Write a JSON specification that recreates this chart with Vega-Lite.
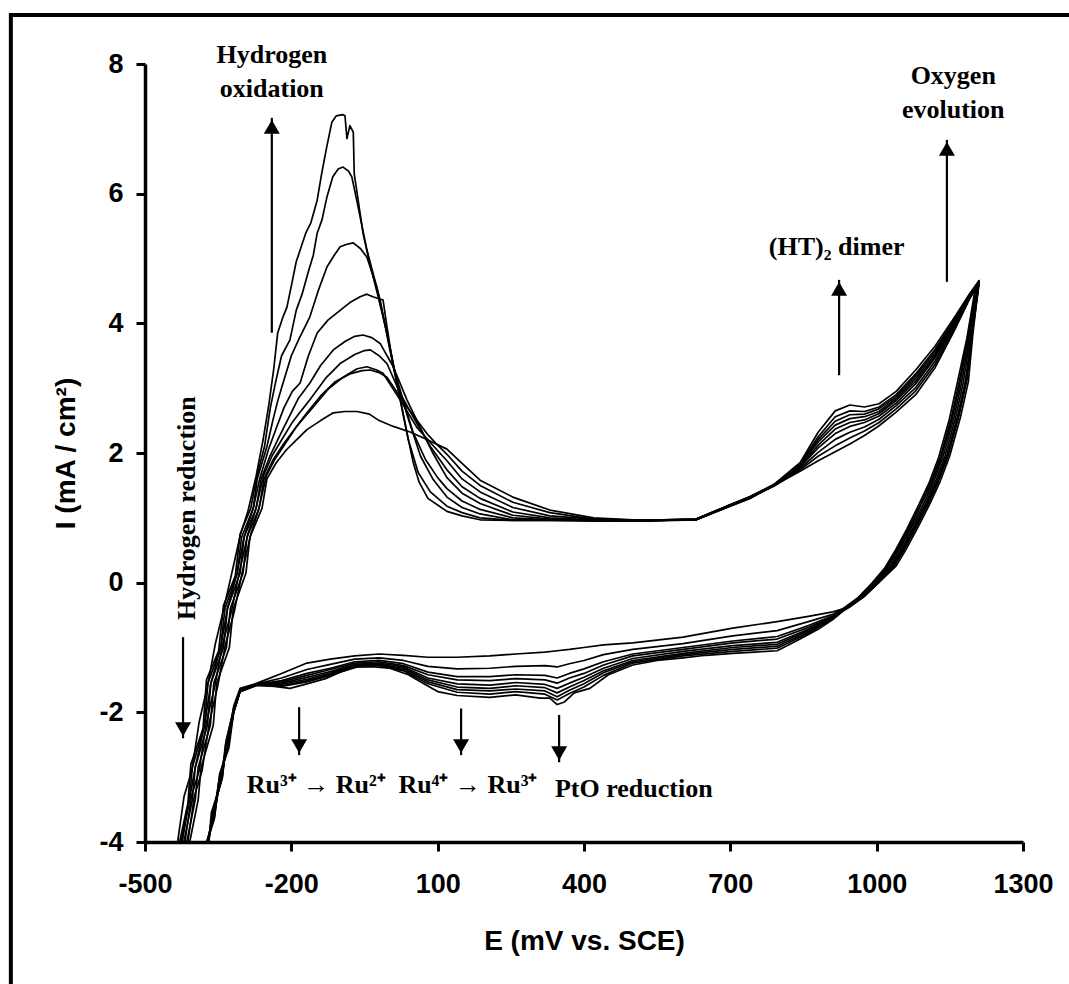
{
"$schema": "https://vega.github.io/schema/vega-lite/v6.json",
"width": 878, "height": 778,
"autosize": "none",
"padding": {"left": 145, "top": 64, "right": 46, "bottom": 142},
"background": "white",
"config": {"view": {"stroke": null}},
"datasets": {
"cv": [
{"c":1,"E":-460,"I":-5.5},{"c":1,"E":-435,"I":-4.1},{"c":1,"E":-420,"I":-3.3},{"c":1,"E":-404,"I":-2.9},{"c":1,"E":-389,"I":-2.15},{"c":1,"E":-372,"I":-1.6},{"c":1,"E":-356,"I":-0.95},{"c":1,"E":-340,"I":-0.45},{"c":1,"E":-322,"I":0.15},{"c":1,"E":-304,"I":0.75},{"c":1,"E":-289,"I":1.1},{"c":1,"E":-272,"I":1.65},
{"c":1,"E":-258,"I":2.2},{"c":1,"E":-246,"I":2.75},{"c":1,"E":-236,"I":3.3},{"c":1,"E":-228,"I":3.85},{"c":1,"E":-217,"I":4.1},{"c":1,"E":-209,"I":4.25},{"c":1,"E":-198,"I":4.65},{"c":1,"E":-190,"I":4.95},{"c":1,"E":-182,"I":5.13},{"c":1,"E":-170,"I":5.4},{"c":1,"E":-160,"I":5.55},{"c":1,"E":-147,"I":5.9},{"c":1,"E":-138,"I":6.3},{"c":1,"E":-128,"I":6.7},{"c":1,"E":-117,"I":7.1},{"c":1,"E":-108,"I":7.2},{"c":1,"E":-95,"I":7.22},{"c":1,"E":-90,"I":7.2},{"c":1,"E":-86,"I":6.85},{"c":1,"E":-80,"I":7.05},{"c":1,"E":-73,"I":6.95},{"c":1,"E":-71,"I":6.3},{"c":1,"E":-66,"I":6.05},{"c":1,"E":-53,"I":5.39},{"c":1,"E":-40,"I":4.95},{"c":1,"E":-24,"I":4.47},{"c":1,"E":-4,"I":3.85},{"c":1,"E":17,"I":3.08},{"c":1,"E":37,"I":2.31},{"c":1,"E":50,"I":1.85},{"c":1,"E":62,"I":1.55},{"c":1,"E":80,"I":1.3},{"c":1,"E":119,"I":1.1},{"c":1,"E":150,"I":1.03},{"c":1,"E":187,"I":0.97},{"c":1,"E":254,"I":0.96},{"c":1,"E":330,"I":0.96},{"c":1,"E":420,"I":0.95},{"c":1,"E":520,"I":0.96},{"c":1,"E":630,"I":0.97},{"c":1,"E":693,"I":1.16},{"c":1,"E":740,"I":1.3},{"c":1,"E":790,"I":1.5},
{"c":1,"E":843,"I":1.72},{"c":1,"E":880,"I":1.88},{"c":1,"E":915,"I":2.02},{"c":1,"E":945,"I":2.14},{"c":1,"E":975,"I":2.27},{"c":1,"E":1005,"I":2.42},{"c":1,"E":1040,"I":2.63},{"c":1,"E":1080,"I":2.9},{"c":1,"E":1120,"I":3.32},{"c":1,"E":1160,"I":3.9},{"c":1,"E":1190,"I":4.37},{"c":1,"E":1210,"I":4.62},
{"c":1,"E":1205,"I":4.45},{"c":1,"E":1192,"I":3.8},{"c":1,"E":1178,"I":3.1},{"c":1,"E":1162,"I":2.55},{"c":1,"E":1140,"I":1.95},{"c":1,"E":1120,"I":1.55},{"c":1,"E":1100,"I":1.22},{"c":1,"E":1075,"I":0.85},{"c":1,"E":1050,"I":0.5},{"c":1,"E":1030,"I":0.25},{"c":1,"E":1000,"I":0.0},{"c":1,"E":970,"I":-0.22},{"c":1,"E":940,"I":-0.38},
{"c":1,"E":910,"I":-0.57},{"c":1,"E":880,"I":-0.72},{"c":1,"E":840,"I":-0.88},{"c":1,"E":796,"I":-1.05},{"c":1,"E":750,"I":-1.07},{"c":1,"E":705,"I":-1.09},{"c":1,"E":650,"I":-1.12},{"c":1,"E":603,"I":-1.16},{"c":1,"E":550,"I":-1.2},{"c":1,"E":500,"I":-1.27},{"c":1,"E":450,"I":-1.42},{"c":1,"E":412,"I":-1.63},{"c":1,"E":380,"I":-1.7},{"c":1,"E":360,"I":-1.84},{"c":1,"E":345,"I":-1.88},{"c":1,"E":330,"I":-1.78},{"c":1,"E":310,"I":-1.78},{"c":1,"E":260,"I":-1.73},{"c":1,"E":207,"I":-1.77},{"c":1,"E":140,"I":-1.74},{"c":1,"E":100,"I":-1.68},{"c":1,"E":70,"I":-1.55},{"c":1,"E":40,"I":-1.42},{"c":1,"E":2,"I":-1.32},{"c":1,"E":-30,"I":-1.3},{"c":1,"E":-65,"I":-1.3},{"c":1,"E":-100,"I":-1.38},{"c":1,"E":-130,"I":-1.48},{"c":1,"E":-168,"I":-1.56},{"c":1,"E":-203,"I":-1.63},{"c":1,"E":-235,"I":-1.6},{"c":1,"E":-270,"I":-1.58},{"c":1,"E":-305,"I":-1.68},{"c":1,"E":-318,"I":-2.0},{"c":1,"E":-330,"I":-2.5},{"c":1,"E":-345,"I":-3.0},{"c":1,"E":-360,"I":-3.6},{"c":1,"E":-375,"I":-4.1},{"c":1,"E":-395,"I":-5.5},

{"c":2,"E":-457,"I":-5.5},{"c":2,"E":-432,"I":-4.1},{"c":2,"E":-412,"I":-3.4},{"c":2,"E":-406,"I":-2.8},{"c":2,"E":-381,"I":-2.25},{"c":2,"E":-374,"I":-1.5},{"c":2,"E":-349,"I":-1.05},{"c":2,"E":-339,"I":-0.35},{"c":2,"E":-315,"I":0.1},{"c":2,"E":-305,"I":0.75},{"c":2,"E":-283,"I":1.15},{"c":2,"E":-272,"I":1.6},
{"c":2,"E":-255,"I":2.1},{"c":2,"E":-243,"I":2.7},{"c":2,"E":-232,"I":3.1},{"c":2,"E":-220,"I":3.5},{"c":2,"E":-203,"I":3.74},{"c":2,"E":-190,"I":4.2},{"c":2,"E":-178,"I":4.45},{"c":2,"E":-165,"I":4.8},{"c":2,"E":-155,"I":5.05},{"c":2,"E":-147,"I":5.39},{"c":2,"E":-137,"I":5.6},{"c":2,"E":-127,"I":5.95},{"c":2,"E":-115,"I":6.26},{"c":2,"E":-104,"I":6.38},{"c":2,"E":-94,"I":6.41},{"c":2,"E":-83,"I":6.35},{"c":2,"E":-76,"I":6.26},{"c":2,"E":-66,"I":5.9},{"c":2,"E":-45,"I":5.13},{"c":2,"E":-18,"I":4.36},{"c":2,"E":2,"I":3.59},{"c":2,"E":23,"I":2.82},{"c":2,"E":40,"I":2.2},{"c":2,"E":60,"I":1.7},{"c":2,"E":85,"I":1.4},{"c":2,"E":119,"I":1.18},{"c":2,"E":150,"I":1.08},{"c":2,"E":187,"I":1.0},{"c":2,"E":254,"I":0.96},{"c":2,"E":330,"I":0.96},{"c":2,"E":420,"I":0.96},{"c":2,"E":520,"I":0.95},{"c":2,"E":630,"I":0.98},{"c":2,"E":693,"I":1.18},{"c":2,"E":740,"I":1.31},{"c":2,"E":790,"I":1.49},
{"c":2,"E":843,"I":1.74},{"c":2,"E":880,"I":1.95},{"c":2,"E":915,"I":2.11},{"c":2,"E":945,"I":2.23},{"c":2,"E":975,"I":2.34},{"c":2,"E":1005,"I":2.47},{"c":2,"E":1040,"I":2.68},{"c":2,"E":1080,"I":2.96},{"c":2,"E":1120,"I":3.37},{"c":2,"E":1160,"I":3.93},{"c":2,"E":1190,"I":4.38},{"c":2,"E":1210,"I":4.63},
{"c":2,"E":1203,"I":4.4},{"c":2,"E":1187,"I":3.75},{"c":2,"E":1170,"I":3.05},{"c":2,"E":1154,"I":2.5},{"c":2,"E":1132,"I":1.92},{"c":2,"E":1112,"I":1.52},{"c":2,"E":1091,"I":1.2},{"c":2,"E":1067,"I":0.82},{"c":2,"E":1042,"I":0.48},{"c":2,"E":1021,"I":0.22},{"c":2,"E":993,"I":-0.02},{"c":2,"E":964,"I":-0.24},{"c":2,"E":935,"I":-0.4},
{"c":2,"E":910,"I":-0.56},{"c":2,"E":860,"I":-0.78},{"c":2,"E":796,"I":-1.01},{"c":2,"E":705,"I":-1.06},{"c":2,"E":603,"I":-1.13},{"c":2,"E":500,"I":-1.24},{"c":2,"E":440,"I":-1.43},{"c":2,"E":400,"I":-1.61},{"c":2,"E":370,"I":-1.71},{"c":2,"E":345,"I":-1.81},{"c":2,"E":320,"I":-1.72},{"c":2,"E":260,"I":-1.68},{"c":2,"E":207,"I":-1.72},{"c":2,"E":140,"I":-1.69},{"c":2,"E":80,"I":-1.56},{"c":2,"E":30,"I":-1.36},{"c":2,"E":-20,"I":-1.28},{"c":2,"E":-70,"I":-1.3},{"c":2,"E":-120,"I":-1.43},{"c":2,"E":-168,"I":-1.53},{"c":2,"E":-220,"I":-1.6},{"c":2,"E":-270,"I":-1.58},{"c":2,"E":-305,"I":-1.68},{"c":2,"E":-318,"I":-1.99},{"c":2,"E":-332,"I":-2.45},{"c":2,"E":-343,"I":-3.05},{"c":2,"E":-362,"I":-3.55},{"c":2,"E":-372,"I":-4.1},{"c":2,"E":-392,"I":-5.5},

{"c":3,"E":-454,"I":-5.5},{"c":3,"E":-429,"I":-4.1},{"c":3,"E":-409,"I":-3.35},{"c":3,"E":-403,"I":-2.85},{"c":3,"E":-378,"I":-2.2},{"c":3,"E":-371,"I":-1.55},{"c":3,"E":-345,"I":-1.0},{"c":3,"E":-336,"I":-0.4},{"c":3,"E":-311,"I":0.15},{"c":3,"E":-302,"I":0.7},{"c":3,"E":-278,"I":1.15},{"c":3,"E":-270,"I":1.6},
{"c":3,"E":-250,"I":2.1},{"c":3,"E":-238,"I":2.5},{"c":3,"E":-228,"I":2.8},{"c":3,"E":-217,"I":3.08},{"c":3,"E":-200,"I":3.5},{"c":3,"E":-185,"I":3.75},{"c":3,"E":-162,"I":4.1},{"c":3,"E":-145,"I":4.5},{"c":3,"E":-127,"I":4.87},{"c":3,"E":-112,"I":5.05},{"c":3,"E":-100,"I":5.18},{"c":3,"E":-86,"I":5.22},{"c":3,"E":-73,"I":5.24},{"c":3,"E":-58,"I":5.15},{"c":3,"E":-45,"I":5.02},{"c":3,"E":-25,"I":4.56},{"c":3,"E":-4,"I":3.85},{"c":3,"E":17,"I":3.08},{"c":3,"E":43,"I":2.45},{"c":3,"E":65,"I":1.95},{"c":3,"E":90,"I":1.6},{"c":3,"E":119,"I":1.32},{"c":3,"E":150,"I":1.16},{"c":3,"E":187,"I":1.06},{"c":3,"E":254,"I":0.97},{"c":3,"E":330,"I":0.97},{"c":3,"E":420,"I":0.96},{"c":3,"E":520,"I":0.96},{"c":3,"E":630,"I":0.97},{"c":3,"E":693,"I":1.17},{"c":3,"E":740,"I":1.32},{"c":3,"E":790,"I":1.5},
{"c":3,"E":843,"I":1.76},{"c":3,"E":880,"I":2.01},{"c":3,"E":915,"I":2.21},{"c":3,"E":945,"I":2.32},{"c":3,"E":975,"I":2.4},{"c":3,"E":1005,"I":2.52},{"c":3,"E":1040,"I":2.73},{"c":3,"E":1080,"I":3.01},{"c":3,"E":1120,"I":3.42},{"c":3,"E":1160,"I":3.96},{"c":3,"E":1190,"I":4.39},{"c":3,"E":1210,"I":4.63},
{"c":3,"E":1208,"I":4.5},{"c":3,"E":1196,"I":3.85},{"c":3,"E":1185,"I":3.12},{"c":3,"E":1169,"I":2.58},{"c":3,"E":1147,"I":1.97},{"c":3,"E":1127,"I":1.57},{"c":3,"E":1107,"I":1.24},{"c":3,"E":1082,"I":0.87},{"c":3,"E":1057,"I":0.52},{"c":3,"E":1037,"I":0.27},{"c":3,"E":1005,"I":0.01},{"c":3,"E":974,"I":-0.2},{"c":3,"E":943,"I":-0.37},
{"c":3,"E":910,"I":-0.55},{"c":3,"E":860,"I":-0.76},{"c":3,"E":796,"I":-0.98},{"c":3,"E":705,"I":-1.03},{"c":3,"E":603,"I":-1.11},{"c":3,"E":500,"I":-1.22},{"c":3,"E":440,"I":-1.39},{"c":3,"E":400,"I":-1.56},{"c":3,"E":370,"I":-1.66},{"c":3,"E":345,"I":-1.76},{"c":3,"E":320,"I":-1.67},{"c":3,"E":260,"I":-1.64},{"c":3,"E":207,"I":-1.67},{"c":3,"E":140,"I":-1.65},{"c":3,"E":80,"I":-1.53},{"c":3,"E":30,"I":-1.34},{"c":3,"E":-20,"I":-1.27},{"c":3,"E":-70,"I":-1.28},{"c":3,"E":-120,"I":-1.41},{"c":3,"E":-168,"I":-1.51},{"c":3,"E":-220,"I":-1.59},{"c":3,"E":-270,"I":-1.58},{"c":3,"E":-305,"I":-1.67},{"c":3,"E":-318,"I":-1.99},{"c":3,"E":-328,"I":-2.55},{"c":3,"E":-347,"I":-2.95},{"c":3,"E":-358,"I":-3.65},{"c":3,"E":-377,"I":-4.1},{"c":3,"E":-397,"I":-5.5},

{"c":4,"E":-451,"I":-5.5},{"c":4,"E":-426,"I":-4.1},{"c":4,"E":-409,"I":-3.35},{"c":4,"E":-397,"I":-2.85},{"c":4,"E":-378,"I":-2.2},{"c":4,"E":-365,"I":-1.55},{"c":4,"E":-345,"I":-1.0},{"c":4,"E":-331,"I":-0.4},{"c":4,"E":-311,"I":0.15},{"c":4,"E":-297,"I":0.7},{"c":4,"E":-278,"I":1.15},{"c":4,"E":-265,"I":1.6},
{"c":4,"E":-247,"I":2.05},{"c":4,"E":-230,"I":2.4},{"c":4,"E":-215,"I":2.7},{"c":4,"E":-198,"I":2.95},{"c":4,"E":-182,"I":3.08},{"c":4,"E":-165,"I":3.5},{"c":4,"E":-147,"I":3.85},{"c":4,"E":-125,"I":4.05},{"c":4,"E":-100,"I":4.2},{"c":4,"E":-80,"I":4.32},{"c":4,"E":-59,"I":4.41},{"c":4,"E":-45,"I":4.45},{"c":4,"E":-33,"I":4.41},{"c":4,"E":-12,"I":4.36},{"c":4,"E":-4,"I":3.95},{"c":4,"E":9,"I":3.33},{"c":4,"E":29,"I":2.82},{"c":4,"E":50,"I":2.31},{"c":4,"E":75,"I":1.9},{"c":4,"E":100,"I":1.62},{"c":4,"E":119,"I":1.45},{"c":4,"E":150,"I":1.26},{"c":4,"E":187,"I":1.13},{"c":4,"E":254,"I":1.0},{"c":4,"E":330,"I":0.97},{"c":4,"E":420,"I":0.96},{"c":4,"E":520,"I":0.95},{"c":4,"E":630,"I":0.97},{"c":4,"E":693,"I":1.16},{"c":4,"E":740,"I":1.3},{"c":4,"E":790,"I":1.51},
{"c":4,"E":843,"I":1.78},{"c":4,"E":880,"I":2.08},{"c":4,"E":915,"I":2.3},{"c":4,"E":945,"I":2.41},{"c":4,"E":975,"I":2.47},{"c":4,"E":1005,"I":2.57},{"c":4,"E":1040,"I":2.77},{"c":4,"E":1080,"I":3.07},{"c":4,"E":1120,"I":3.47},{"c":4,"E":1160,"I":3.99},{"c":4,"E":1190,"I":4.41},{"c":4,"E":1210,"I":4.64},
{"c":4,"E":1204,"I":4.42},{"c":4,"E":1190,"I":3.78},{"c":4,"E":1174,"I":3.08},{"c":4,"E":1158,"I":2.53},{"c":4,"E":1136,"I":1.94},{"c":4,"E":1116,"I":1.54},{"c":4,"E":1096,"I":1.21},{"c":4,"E":1071,"I":0.84},{"c":4,"E":1046,"I":0.49},{"c":4,"E":1026,"I":0.24},{"c":4,"E":997,"I":-0.01},{"c":4,"E":968,"I":-0.23},{"c":4,"E":938,"I":-0.39},
{"c":4,"E":910,"I":-0.54},{"c":4,"E":860,"I":-0.74},{"c":4,"E":796,"I":-0.95},{"c":4,"E":705,"I":-1.0},{"c":4,"E":603,"I":-1.09},{"c":4,"E":500,"I":-1.2},{"c":4,"E":440,"I":-1.36},{"c":4,"E":400,"I":-1.51},{"c":4,"E":370,"I":-1.61},{"c":4,"E":345,"I":-1.7},{"c":4,"E":320,"I":-1.62},{"c":4,"E":260,"I":-1.59},{"c":4,"E":207,"I":-1.63},{"c":4,"E":140,"I":-1.61},{"c":4,"E":80,"I":-1.5},{"c":4,"E":30,"I":-1.32},{"c":4,"E":-20,"I":-1.26},{"c":4,"E":-70,"I":-1.27},{"c":4,"E":-120,"I":-1.39},{"c":4,"E":-168,"I":-1.49},{"c":4,"E":-220,"I":-1.57},{"c":4,"E":-270,"I":-1.57},{"c":4,"E":-305,"I":-1.67},{"c":4,"E":-318,"I":-1.98},{"c":4,"E":-333,"I":-2.5},{"c":4,"E":-342,"I":-3.0},{"c":4,"E":-363,"I":-3.6},{"c":4,"E":-371,"I":-4.1},{"c":4,"E":-391,"I":-5.5},

{"c":5,"E":-448,"I":-5.5},{"c":5,"E":-423,"I":-4.1},{"c":5,"E":-403,"I":-3.35},{"c":5,"E":-397,"I":-2.85},{"c":5,"E":-372,"I":-2.2},{"c":5,"E":-365,"I":-1.55},{"c":5,"E":-339,"I":-1.0},{"c":5,"E":-331,"I":-0.4},{"c":5,"E":-305,"I":0.15},{"c":5,"E":-297,"I":0.7},{"c":5,"E":-272,"I":1.15},{"c":5,"E":-262,"I":1.6},
{"c":5,"E":-244,"I":1.95},{"c":5,"E":-225,"I":2.25},{"c":5,"E":-205,"I":2.55},{"c":5,"E":-185,"I":2.85},{"c":5,"E":-162,"I":3.08},{"c":5,"E":-140,"I":3.35},{"c":5,"E":-114,"I":3.59},{"c":5,"E":-90,"I":3.72},{"c":5,"E":-70,"I":3.8},{"c":5,"E":-53,"I":3.82},{"c":5,"E":-35,"I":3.78},{"c":5,"E":-18,"I":3.69},{"c":5,"E":9,"I":3.33},{"c":5,"E":37,"I":2.82},{"c":5,"E":64,"I":2.4},{"c":5,"E":90,"I":2.0},{"c":5,"E":119,"I":1.62},{"c":5,"E":150,"I":1.38},{"c":5,"E":187,"I":1.22},{"c":5,"E":254,"I":1.04},{"c":5,"E":330,"I":0.98},{"c":5,"E":420,"I":0.96},{"c":5,"E":520,"I":0.96},{"c":5,"E":630,"I":0.98},{"c":5,"E":693,"I":1.18},{"c":5,"E":740,"I":1.32},{"c":5,"E":790,"I":1.5},
{"c":5,"E":843,"I":1.79},{"c":5,"E":880,"I":2.12},{"c":5,"E":915,"I":2.37},{"c":5,"E":945,"I":2.47},{"c":5,"E":975,"I":2.51},{"c":5,"E":1005,"I":2.61},{"c":5,"E":1040,"I":2.81},{"c":5,"E":1080,"I":3.11},{"c":5,"E":1120,"I":3.5},{"c":5,"E":1160,"I":4.01},{"c":5,"E":1190,"I":4.41},{"c":5,"E":1210,"I":4.64},
{"c":5,"E":1207,"I":4.47},{"c":5,"E":1197,"I":3.82},{"c":5,"E":1188,"I":3.1},{"c":5,"E":1172,"I":2.56},{"c":5,"E":1150,"I":1.96},{"c":5,"E":1130,"I":1.56},{"c":5,"E":1110,"I":1.23},{"c":5,"E":1085,"I":0.86},{"c":5,"E":1060,"I":0.51},{"c":5,"E":1040,"I":0.26},{"c":5,"E":1007,"I":0.02},{"c":5,"E":975,"I":-0.21},{"c":5,"E":944,"I":-0.38},
{"c":5,"E":910,"I":-0.53},{"c":5,"E":860,"I":-0.72},{"c":5,"E":796,"I":-0.92},{"c":5,"E":705,"I":-0.97},{"c":5,"E":603,"I":-1.06},{"c":5,"E":500,"I":-1.17},{"c":5,"E":440,"I":-1.32},{"c":5,"E":400,"I":-1.46},{"c":5,"E":370,"I":-1.55},{"c":5,"E":345,"I":-1.63},{"c":5,"E":320,"I":-1.57},{"c":5,"E":260,"I":-1.54},{"c":5,"E":207,"I":-1.58},{"c":5,"E":140,"I":-1.56},{"c":5,"E":80,"I":-1.47},{"c":5,"E":30,"I":-1.3},{"c":5,"E":-20,"I":-1.24},{"c":5,"E":-70,"I":-1.26},{"c":5,"E":-120,"I":-1.37},{"c":5,"E":-168,"I":-1.46},{"c":5,"E":-220,"I":-1.55},{"c":5,"E":-270,"I":-1.57},{"c":5,"E":-305,"I":-1.67},{"c":5,"E":-318,"I":-1.97},{"c":5,"E":-329,"I":-2.5},{"c":5,"E":-348,"I":-3.05},{"c":5,"E":-357,"I":-3.6},{"c":5,"E":-378,"I":-4.1},{"c":5,"E":-398,"I":-5.5},

{"c":6,"E":-445,"I":-5.5},{"c":6,"E":-420,"I":-4.1},{"c":6,"E":-405,"I":-3.3},{"c":6,"E":-389,"I":-2.9},{"c":6,"E":-374,"I":-2.15},{"c":6,"E":-357,"I":-1.6},{"c":6,"E":-341,"I":-0.95},{"c":6,"E":-323,"I":-0.45},{"c":6,"E":-307,"I":0.15},{"c":6,"E":-289,"I":0.75},{"c":6,"E":-274,"I":1.1},{"c":6,"E":-257,"I":1.65},
{"c":6,"E":-240,"I":1.95},{"c":6,"E":-220,"I":2.2},{"c":6,"E":-200,"I":2.45},{"c":6,"E":-180,"I":2.65},{"c":6,"E":-162,"I":2.82},{"c":6,"E":-130,"I":3.15},{"c":6,"E":-100,"I":3.38},{"c":6,"E":-70,"I":3.52},{"c":6,"E":-50,"I":3.58},{"c":6,"E":-38,"I":3.59},{"c":6,"E":-20,"I":3.5},{"c":6,"E":-4,"I":3.38},{"c":6,"E":23,"I":2.92},{"c":6,"E":57,"I":2.46},{"c":6,"E":85,"I":2.1},{"c":6,"E":119,"I":1.74},{"c":6,"E":150,"I":1.48},{"c":6,"E":187,"I":1.3},{"c":6,"E":254,"I":1.09},{"c":6,"E":330,"I":1.0},{"c":6,"E":420,"I":0.97},{"c":6,"E":520,"I":0.96},{"c":6,"E":630,"I":0.97},{"c":6,"E":693,"I":1.17},{"c":6,"E":740,"I":1.31},{"c":6,"E":790,"I":1.5},
{"c":6,"E":843,"I":1.8},{"c":6,"E":880,"I":2.17},{"c":6,"E":915,"I":2.43},{"c":6,"E":945,"I":2.53},{"c":6,"E":975,"I":2.56},{"c":6,"E":1005,"I":2.64},{"c":6,"E":1040,"I":2.84},{"c":6,"E":1080,"I":3.15},{"c":6,"E":1120,"I":3.53},{"c":6,"E":1160,"I":4.03},{"c":6,"E":1190,"I":4.42},{"c":6,"E":1210,"I":4.65},
{"c":6,"E":1202,"I":4.48},{"c":6,"E":1187,"I":3.79},{"c":6,"E":1169,"I":3.09},{"c":6,"E":1153,"I":2.54},{"c":6,"E":1131,"I":1.95},{"c":6,"E":1111,"I":1.55},{"c":6,"E":1091,"I":1.22},{"c":6,"E":1066,"I":0.85},{"c":6,"E":1041,"I":0.5},{"c":6,"E":1021,"I":0.25},{"c":6,"E":993,"I":0.0},{"c":6,"E":964,"I":-0.22},{"c":6,"E":936,"I":-0.38},
{"c":6,"E":910,"I":-0.52},{"c":6,"E":860,"I":-0.69},{"c":6,"E":796,"I":-0.87},{"c":6,"E":705,"I":-0.93},{"c":6,"E":603,"I":-1.03},{"c":6,"E":500,"I":-1.13},{"c":6,"E":440,"I":-1.27},{"c":6,"E":400,"I":-1.4},{"c":6,"E":370,"I":-1.47},{"c":6,"E":345,"I":-1.55},{"c":6,"E":320,"I":-1.5},{"c":6,"E":260,"I":-1.48},{"c":6,"E":207,"I":-1.51},{"c":6,"E":140,"I":-1.5},{"c":6,"E":80,"I":-1.42},{"c":6,"E":30,"I":-1.28},{"c":6,"E":-20,"I":-1.22},{"c":6,"E":-70,"I":-1.24},{"c":6,"E":-120,"I":-1.34},{"c":6,"E":-168,"I":-1.43},{"c":6,"E":-220,"I":-1.53},{"c":6,"E":-270,"I":-1.57},{"c":6,"E":-305,"I":-1.66},{"c":6,"E":-318,"I":-1.96},{"c":6,"E":-334,"I":-2.45},{"c":6,"E":-341,"I":-3.0},{"c":6,"E":-364,"I":-3.55},{"c":6,"E":-370,"I":-4.1},{"c":6,"E":-390,"I":-5.5},

{"c":7,"E":-442,"I":-5.5},{"c":7,"E":-417,"I":-4.1},{"c":7,"E":-397,"I":-3.35},{"c":7,"E":-391,"I":-2.85},{"c":7,"E":-366,"I":-2.2},{"c":7,"E":-359,"I":-1.55},{"c":7,"E":-333,"I":-1.0},{"c":7,"E":-325,"I":-0.4},{"c":7,"E":-299,"I":0.15},{"c":7,"E":-291,"I":0.7},{"c":7,"E":-266,"I":1.15},{"c":7,"E":-256,"I":1.6},
{"c":7,"E":-237,"I":1.9},{"c":7,"E":-215,"I":2.15},{"c":7,"E":-190,"I":2.4},{"c":7,"E":-170,"I":2.58},{"c":7,"E":-155,"I":2.71},{"c":7,"E":-125,"I":2.98},{"c":7,"E":-94,"I":3.17},{"c":7,"E":-65,"I":3.3},{"c":7,"E":-45,"I":3.33},{"c":7,"E":-25,"I":3.28},{"c":7,"E":-12,"I":3.23},{"c":7,"E":23,"I":2.82},{"c":7,"E":57,"I":2.4},{"c":7,"E":90,"I":2.12},{"c":7,"E":119,"I":1.88},{"c":7,"E":150,"I":1.6},{"c":7,"E":187,"I":1.4},{"c":7,"E":254,"I":1.16},{"c":7,"E":330,"I":1.03},{"c":7,"E":420,"I":0.98},{"c":7,"E":520,"I":0.96},{"c":7,"E":630,"I":0.98},{"c":7,"E":693,"I":1.18},{"c":7,"E":740,"I":1.33},{"c":7,"E":790,"I":1.51},
{"c":7,"E":843,"I":1.82},{"c":7,"E":880,"I":2.21},{"c":7,"E":915,"I":2.49},{"c":7,"E":945,"I":2.59},{"c":7,"E":975,"I":2.6},{"c":7,"E":1005,"I":2.68},{"c":7,"E":1040,"I":2.87},{"c":7,"E":1080,"I":3.19},{"c":7,"E":1120,"I":3.57},{"c":7,"E":1160,"I":4.05},{"c":7,"E":1190,"I":4.43},{"c":7,"E":1210,"I":4.65},
{"c":7,"E":1207,"I":4.5},{"c":7,"E":1195,"I":3.83},{"c":7,"E":1182,"I":3.11},{"c":7,"E":1166,"I":2.57},{"c":7,"E":1144,"I":1.97},{"c":7,"E":1124,"I":1.57},{"c":7,"E":1104,"I":1.24},{"c":7,"E":1079,"I":0.87},{"c":7,"E":1054,"I":0.52},{"c":7,"E":1034,"I":0.27},{"c":7,"E":1003,"I":0.01},{"c":7,"E":972,"I":-0.2},{"c":7,"E":942,"I":-0.37},
{"c":7,"E":910,"I":-0.51},{"c":7,"E":860,"I":-0.66},{"c":7,"E":796,"I":-0.83},{"c":7,"E":705,"I":-0.9},{"c":7,"E":603,"I":-1.0},{"c":7,"E":500,"I":-1.1},{"c":7,"E":440,"I":-1.22},{"c":7,"E":400,"I":-1.33},{"c":7,"E":370,"I":-1.4},{"c":7,"E":345,"I":-1.47},{"c":7,"E":320,"I":-1.43},{"c":7,"E":260,"I":-1.42},{"c":7,"E":207,"I":-1.45},{"c":7,"E":140,"I":-1.45},{"c":7,"E":80,"I":-1.38},{"c":7,"E":30,"I":-1.25},{"c":7,"E":-20,"I":-1.2},{"c":7,"E":-70,"I":-1.22},{"c":7,"E":-120,"I":-1.32},{"c":7,"E":-168,"I":-1.4},{"c":7,"E":-220,"I":-1.51},{"c":7,"E":-270,"I":-1.57},{"c":7,"E":-305,"I":-1.66},{"c":7,"E":-318,"I":-1.95},{"c":7,"E":-330,"I":-2.5},{"c":7,"E":-346,"I":-2.95},{"c":7,"E":-360,"I":-3.6},{"c":7,"E":-376,"I":-4.1},{"c":7,"E":-396,"I":-5.5},

{"c":8,"E":-439,"I":-5.5},{"c":8,"E":-414,"I":-4.1},{"c":8,"E":-399,"I":-3.3},{"c":8,"E":-383,"I":-2.9},{"c":8,"E":-368,"I":-2.15},{"c":8,"E":-351,"I":-1.6},{"c":8,"E":-335,"I":-0.95},{"c":8,"E":-317,"I":-0.45},{"c":8,"E":-301,"I":0.15},{"c":8,"E":-283,"I":0.75},{"c":8,"E":-268,"I":1.1},{"c":8,"E":-251,"I":1.65},
{"c":8,"E":-234,"I":1.9},{"c":8,"E":-212,"I":2.15},{"c":8,"E":-190,"I":2.4},{"c":8,"E":-168,"I":2.62},{"c":8,"E":-140,"I":2.88},{"c":8,"E":-110,"I":3.1},{"c":8,"E":-80,"I":3.22},{"c":8,"E":-55,"I":3.27},{"c":8,"E":-38,"I":3.28},{"c":8,"E":-20,"I":3.24},{"c":8,"E":-4,"I":3.17},{"c":8,"E":37,"I":2.71},{"c":8,"E":78,"I":2.3},{"c":8,"E":100,"I":2.12},{"c":8,"E":119,"I":1.98},{"c":8,"E":150,"I":1.72},{"c":8,"E":187,"I":1.5},{"c":8,"E":254,"I":1.24},{"c":8,"E":330,"I":1.08},{"c":8,"E":420,"I":0.98},{"c":8,"E":520,"I":0.96},{"c":8,"E":630,"I":0.97},{"c":8,"E":693,"I":1.17},{"c":8,"E":740,"I":1.32},{"c":8,"E":790,"I":1.5},
{"c":8,"E":843,"I":1.83},{"c":8,"E":880,"I":2.25},{"c":8,"E":915,"I":2.56},{"c":8,"E":945,"I":2.65},{"c":8,"E":975,"I":2.64},{"c":8,"E":1005,"I":2.71},{"c":8,"E":1040,"I":2.9},{"c":8,"E":1080,"I":3.22},{"c":8,"E":1120,"I":3.6},{"c":8,"E":1160,"I":4.07},{"c":8,"E":1190,"I":4.44},{"c":8,"E":1210,"I":4.65},
{"c":8,"E":1200,"I":4.44},{"c":8,"E":1185,"I":3.77},{"c":8,"E":1165,"I":3.07},{"c":8,"E":1149,"I":2.52},{"c":8,"E":1127,"I":1.93},{"c":8,"E":1107,"I":1.53},{"c":8,"E":1087,"I":1.21},{"c":8,"E":1062,"I":0.83},{"c":8,"E":1037,"I":0.48},{"c":8,"E":1017,"I":0.23},{"c":8,"E":990,"I":-0.01},{"c":8,"E":962,"I":-0.23},{"c":8,"E":933,"I":-0.39},
{"c":8,"E":910,"I":-0.49},{"c":8,"E":860,"I":-0.6},{"c":8,"E":796,"I":-0.74},{"c":8,"E":705,"I":-0.82},{"c":8,"E":603,"I":-0.94},{"c":8,"E":500,"I":-1.03},{"c":8,"E":440,"I":-1.11},{"c":8,"E":400,"I":-1.2},{"c":8,"E":370,"I":-1.25},{"c":8,"E":345,"I":-1.3},{"c":8,"E":320,"I":-1.28},{"c":8,"E":260,"I":-1.29},{"c":8,"E":207,"I":-1.32},{"c":8,"E":140,"I":-1.33},{"c":8,"E":80,"I":-1.29},{"c":8,"E":30,"I":-1.2},{"c":8,"E":-20,"I":-1.16},{"c":8,"E":-70,"I":-1.18},{"c":8,"E":-120,"I":-1.26},{"c":8,"E":-168,"I":-1.34},{"c":8,"E":-220,"I":-1.47},{"c":8,"E":-270,"I":-1.56},{"c":8,"E":-305,"I":-1.65},{"c":8,"E":-318,"I":-1.93},{"c":8,"E":-335,"I":-2.5},{"c":8,"E":-343,"I":-3.0},{"c":8,"E":-362,"I":-3.6},{"c":8,"E":-373,"I":-4.1},{"c":8,"E":-393,"I":-5.5},

{"c":9,"E":-436,"I":-5.5},{"c":9,"E":-411,"I":-4.1},{"c":9,"E":-391,"I":-3.35},{"c":9,"E":-385,"I":-2.85},{"c":9,"E":-360,"I":-2.2},{"c":9,"E":-353,"I":-1.55},{"c":9,"E":-327,"I":-1.0},{"c":9,"E":-319,"I":-0.4},{"c":9,"E":-293,"I":0.15},{"c":9,"E":-285,"I":0.7},{"c":9,"E":-260,"I":1.15},{"c":9,"E":-250,"I":1.6},
{"c":9,"E":-231,"I":1.85},{"c":9,"E":-210,"I":2.05},{"c":9,"E":-190,"I":2.2},{"c":9,"E":-168,"I":2.36},{"c":9,"E":-140,"I":2.5},{"c":9,"E":-114,"I":2.62},{"c":9,"E":-90,"I":2.64},{"c":9,"E":-65,"I":2.64},{"c":9,"E":-40,"I":2.6},{"c":9,"E":-20,"I":2.5},{"c":9,"E":9,"I":2.41},{"c":9,"E":45,"I":2.32},{"c":9,"E":80,"I":2.2},{"c":9,"E":119,"I":2.06},{"c":9,"E":150,"I":1.84},{"c":9,"E":187,"I":1.58},{"c":9,"E":254,"I":1.32},{"c":9,"E":330,"I":1.12},{"c":9,"E":420,"I":1.0},{"c":9,"E":520,"I":0.96},{"c":9,"E":630,"I":0.98},{"c":9,"E":693,"I":1.18},{"c":9,"E":740,"I":1.32},{"c":9,"E":790,"I":1.52},
{"c":9,"E":843,"I":1.85},{"c":9,"E":880,"I":2.32},{"c":9,"E":915,"I":2.65},{"c":9,"E":945,"I":2.74},{"c":9,"E":975,"I":2.71},{"c":9,"E":1005,"I":2.76},{"c":9,"E":1040,"I":2.95},{"c":9,"E":1080,"I":3.28},{"c":9,"E":1120,"I":3.65},{"c":9,"E":1160,"I":4.1},{"c":9,"E":1190,"I":4.45},{"c":9,"E":1210,"I":4.66},
{"c":9,"E":1207,"I":4.46},{"c":9,"E":1194,"I":3.81},{"c":9,"E":1183,"I":3.1},{"c":9,"E":1167,"I":2.55},{"c":9,"E":1145,"I":1.95},{"c":9,"E":1125,"I":1.55},{"c":9,"E":1105,"I":1.22},{"c":9,"E":1080,"I":0.85},{"c":9,"E":1055,"I":0.5},{"c":9,"E":1035,"I":0.25},{"c":9,"E":1003,"I":0.0},{"c":9,"E":973,"I":-0.22},{"c":9,"E":942,"I":-0.38},
{"c":9,"E":910,"I":-0.45},{"c":9,"E":860,"I":-0.52},{"c":9,"E":796,"I":-0.6},{"c":9,"E":705,"I":-0.7},{"c":9,"E":603,"I":-0.84},{"c":9,"E":500,"I":-0.93},{"c":9,"E":440,"I":-0.96},{"c":9,"E":400,"I":-1.0},{"c":9,"E":370,"I":-1.03},{"c":9,"E":345,"I":-1.05},{"c":9,"E":320,"I":-1.07},{"c":9,"E":260,"I":-1.1},{"c":9,"E":207,"I":-1.13},{"c":9,"E":140,"I":-1.15},{"c":9,"E":80,"I":-1.15},{"c":9,"E":30,"I":-1.12},{"c":9,"E":-20,"I":-1.1},{"c":9,"E":-70,"I":-1.13},{"c":9,"E":-120,"I":-1.18},{"c":9,"E":-168,"I":-1.24},{"c":9,"E":-220,"I":-1.4},{"c":9,"E":-270,"I":-1.55},{"c":9,"E":-305,"I":-1.63},{"c":9,"E":-318,"I":-1.9},{"c":9,"E":-331,"I":-2.5},{"c":9,"E":-344,"I":-3.0},{"c":9,"E":-359,"I":-3.6},{"c":9,"E":-374,"I":-4.1},{"c":9,"E":-394,"I":-5.5}
],
"notes": [
{"t":["Hydrogen","oxidation"],"E":-240,"I":8.008},
{"t":["Oxygen","evolution"],"E":1157,"I":7.69},
{"t":"(HT)₂ dimer","E":918,"I":5.05},
{"t":"Ru³⁺ → Ru²⁺","E":-149,"I":-3.245},
{"t":"Ru⁴⁺ → Ru³⁺","E":162,"I":-3.245},
{"t":"PtO reduction","E":502,"I":-3.31}
],
"vnotes": [
{"t":"Hydrogen reduction","E":-397,"I":1.15}
],
"arrows": [
{"E":-240,"I":3.855,"I2":7.17,"d":"up"},
{"E":1144,"I":4.64,"I2":6.83,"d":"up"},
{"E":923,"I":3.2,"I2":4.67,"d":"up"},
{"E":-422,"I":-0.84,"I2":-2.4,"d":"down"},
{"E":-184,"I":-1.92,"I2":-2.66,"d":"down"},
{"E":148,"I":-1.94,"I2":-2.66,"d":"down"},
{"E":349,"I":-2.04,"I2":-2.77,"d":"down"}
]
},
"layer": [
{
"data": {"name": "arrows"},
"mark": {"type": "rule", "color": "black", "strokeWidth": 4, "clip": false},
"transform": [{"filter": "datum.E == -240"}],
"encoding": {
"x": {"datum": -775, "type": "quantitative", "scale": {"domain": [-500, 1300], "nice": false, "zero": false}, "title": "E (mV vs. SCE)"},
"x2": {"datum": 1700},
"y": {"datum": 8.756, "type": "quantitative", "scale": {"domain": [-4, 8], "nice": false, "zero": false}, "title": "I (mA / cm²)"}
}
},
{
"data": {"name": "arrows"},
"mark": {"type": "rule", "color": "black", "strokeWidth": 4, "clip": false},
"transform": [{"filter": "datum.E == -240"}],
"encoding": {
"x": {"datum": -775, "type": "quantitative", "scale": {"domain": [-500, 1300], "nice": false, "zero": false}, "title": "E (mV vs. SCE)"},
"y": {"datum": 8.786, "type": "quantitative", "scale": {"domain": [-4, 8], "nice": false, "zero": false}, "title": "I (mA / cm²)"},
"y2": {"datum": -8}
}
},
{
"data": {"name": "cv"},
"mark": {"type": "line", "color": "black", "strokeWidth": 1.7, "clip": true, "strokeJoin": "round"},
"encoding": {
"x": {"field": "E", "type": "quantitative", "title": "E (mV vs. SCE)",
"scale": {"domain": [-500, 1300], "nice": false, "zero": false},
"axis": {"values": [-500, -200, 100, 400, 700, 1000, 1300], "labelExpr": "'' + datum.value", "grid": false,
"domainColor": "black", "domainWidth": 3.5, "tickColor": "black", "tickWidth": 3, "tickSize": 9,
"labelFont": "Liberation Sans", "labelFontSize": 27, "labelFontWeight": "bold", "labelColor": "black", "labelPadding": 20, "labelFlush": false, "labelOverlap": false,
"titleFont": "Liberation Sans", "titleFontSize": 28, "titleFontWeight": "bold", "titleColor": "black", "titlePadding": 30}},
"y": {"field": "I", "type": "quantitative", "title": "I (mA / cm²)",
"scale": {"domain": [-4, 8], "nice": false, "zero": false},
"axis": {"values": [-4, -2, 0, 2, 4, 6, 8], "labelExpr": "'' + datum.value", "grid": false,
"domainColor": "black", "domainWidth": 3.5, "tickColor": "black", "tickWidth": 3, "tickSize": 9,
"labelFont": "Liberation Sans", "labelFontSize": 27, "labelFontWeight": "bold", "labelColor": "black", "labelPadding": 13, "labelFlush": false, "labelOverlap": false,
"titleFont": "Liberation Sans", "titleFontSize": 28, "titleFontWeight": "bold", "titleColor": "black", "titlePadding": 18}},
"detail": {"field": "c", "type": "nominal"},
"order": {"value": null}
}
},
{
"data": {"name": "arrows"},
"mark": {"type": "rule", "color": "black", "strokeWidth": 2.2, "clip": false},
"encoding": {
"x": {"field": "E", "type": "quantitative", "title": "E (mV vs. SCE)", "scale": {"domain": [-500, 1300], "nice": false, "zero": false}},
"y": {"field": "I", "type": "quantitative", "title": "I (mA / cm²)", "scale": {"domain": [-4, 8], "nice": false, "zero": false}},
"y2": {"field": "I2"}
}
},
{
"data": {"name": "arrows"},
"transform": [{"filter": "datum.d == 'up'"}],
"mark": {"type": "point", "shape": "triangle-up", "filled": true, "color": "black", "opacity": 1, "size": 256, "strokeWidth": 0, "yOffset": 9, "clip": false},
"encoding": {
"x": {"field": "E", "type": "quantitative", "title": "E (mV vs. SCE)", "scale": {"domain": [-500, 1300], "nice": false, "zero": false}},
"y": {"field": "I2", "type": "quantitative", "title": "I (mA / cm²)", "scale": {"domain": [-4, 8], "nice": false, "zero": false}}
}
},
{
"data": {"name": "arrows"},
"transform": [{"filter": "datum.d == 'down'"}],
"mark": {"type": "point", "shape": "triangle-down", "filled": true, "color": "black", "opacity": 1, "size": 256, "strokeWidth": 0, "yOffset": -9, "clip": false},
"encoding": {
"x": {"field": "E", "type": "quantitative", "title": "E (mV vs. SCE)", "scale": {"domain": [-500, 1300], "nice": false, "zero": false}},
"y": {"field": "I2", "type": "quantitative", "title": "I (mA / cm²)", "scale": {"domain": [-4, 8], "nice": false, "zero": false}}
}
},
{
"data": {"name": "notes"},
"mark": {"type": "text", "font": "Liberation Serif", "fontWeight": "bold", "fontSize": 26, "color": "black", "align": "center", "baseline": "alphabetic", "lineHeight": 34, "clip": false},
"encoding": {
"x": {"field": "E", "type": "quantitative", "title": "E (mV vs. SCE)", "scale": {"domain": [-500, 1300], "nice": false, "zero": false}},
"y": {"field": "I", "type": "quantitative", "title": "I (mA / cm²)", "scale": {"domain": [-4, 8], "nice": false, "zero": false}},
"text": {"field": "t"}
}
},
{
"data": {"name": "vnotes"},
"mark": {"type": "text", "font": "Liberation Serif", "fontWeight": "bold", "fontSize": 26, "color": "black", "align": "center", "baseline": "alphabetic", "angle": 270, "clip": false},
"encoding": {
"x": {"field": "E", "type": "quantitative", "title": "E (mV vs. SCE)", "scale": {"domain": [-500, 1300], "nice": false, "zero": false}},
"y": {"field": "I", "type": "quantitative", "title": "I (mA / cm²)", "scale": {"domain": [-4, 8], "nice": false, "zero": false}},
"text": {"field": "t"}
}
}
]
}
